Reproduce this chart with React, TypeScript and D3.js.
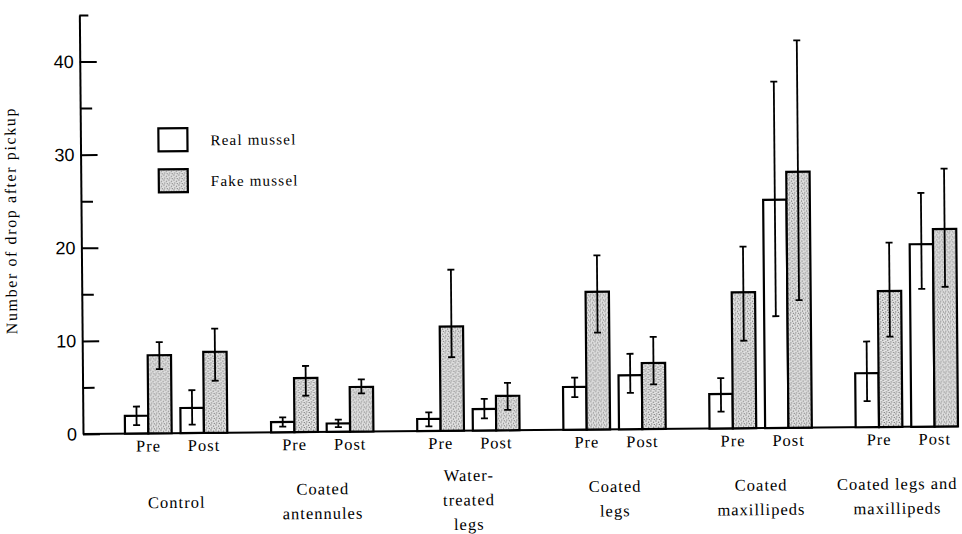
import React, { useEffect, useRef } from "react";
import * as d3 from "d3";

const width = 962;
const height = 534;

const categories = [
  "Control",
  "Coated antennules",
  "Water-treated legs",
  "Coated legs",
  "Coated maxillipeds",
  "Coated legs and maxillipeds",
];
const categoryLines = [
  ["Control"],
  ["Coated", "antennules"],
  ["Water-", "treated", "legs"],
  ["Coated", "legs"],
  ["Coated", "maxillipeds"],
  ["Coated legs and", "maxillipeds"],
];
const phases = ["Pre", "Post"];
const seriesNames = ["Real mussel", "Fake mussel"];

// [Pre, Post] per category
const realMean = [[1.9, 2.7], [1.1, 0.9], [1.3, 2.3], [4.6, 5.8], [3.7, 24.5], [5.8, 19.6]];
const realLow = [[0.9, 0.9], [0.6, 0.5], [0.5, 1.3], [3.5, 3.9], [1.8, 12.0], [2.8, 14.8]];
const realHigh = [[2.9, 4.6], [1.6, 1.3], [2.0, 3.4], [5.6, 8.1], [5.4, 37.2], [9.2, 25.1]];

const fakeMean = [[8.4, 8.7], [5.8, 4.8], [11.2, 3.7], [14.8, 7.1], [14.6, 27.5], [14.6, 21.2]];
const fakeLow = [[6.9, 5.6], [3.9, 4.1], [7.9, 2.2], [10.4, 4.8], [9.4, 13.7], [9.7, 15.0]];
const fakeHigh = [[9.8, 11.2], [7.1, 5.6], [17.3, 5.1], [18.7, 9.9], [19.5, 41.6], [19.8, 27.7]];

const yTicks = [0, 10, 20, 30, 40];
const yMinorTicks = [5, 15, 25, 35];
const yTop = 45;

const serif = "'Liberation Serif', 'Times New Roman', serif";

const App = () => {
  const ref = useRef(null);

  const chart = () => {
    const svg = d3.select(ref.current);
    svg.selectAll("*").remove();
    svg.attr("width", width).attr("height", height).attr("viewBox", [0, 0, width, height]);

    const defs = svg.append("defs");
    const pat = defs
      .append("pattern")
      .attr("id", "stipple")
      .attr("patternUnits", "userSpaceOnUse")
      .attr("width", 5)
      .attr("height", 5);
    pat.append("rect").attr("width", 5).attr("height", 5).attr("fill", "#e4e4e4");
    [[1, 1], [3.6, 2.2], [1.8, 3.9], [4.4, 4.6]].forEach(([cx, cy]) =>
      pat.append("circle").attr("cx", cx).attr("cy", cy).attr("r", 0.65).attr("fill", "#666")
    );

    const axisX = 83;
    const y = d3.scaleLinear().domain([0, yTop]).range([434, 15]);
    const x = d3.scaleBand().domain(categories).range([125, 958]).paddingInner(0.3).paddingOuter(0);
    const xPhase = d3.scaleBand().domain(phases).range([0, x.bandwidth()]).paddingInner(0.16);
    const xSeries = d3.scaleBand().domain(seriesNames).range([0, xPhase.bandwidth()]);

    // the scanned figure is slightly tilted
    const g = svg.append("g").attr("transform", `rotate(-0.5, ${axisX}, ${y(0)})`);

    // y axis
    const yAxis = g
      .append("g")
      .attr("transform", `translate(${axisX},0)`)
      .call(
        d3.axisLeft(y).tickValues(yTicks).tickSizeInner(-17).tickSizeOuter(0).tickPadding(6).tickFormat(d3.format("d"))
      );
    yAxis.selectAll("path, line").attr("stroke", "#000").attr("stroke-width", 2);
    yAxis
      .selectAll("text")
      .attr("font-family", "'Liberation Sans', Arial, sans-serif")
      .attr("font-size", 18)
      .attr("fill", "#000");

    const minor = g
      .append("g")
      .attr("transform", `translate(${axisX},0)`)
      .call(d3.axisLeft(y).tickValues(yMinorTicks).tickSize(-12).tickFormat(() => ""));
    minor.select(".domain").remove();
    minor.selectAll("line").attr("stroke", "#000").attr("stroke-width", 2);

    const cap = g
      .append("g")
      .attr("transform", `translate(${axisX},0)`)
      .call(d3.axisLeft(y).tickValues([yTop]).tickSize(-9).tickFormat(() => ""));
    cap.select(".domain").remove();
    cap.selectAll("line").attr("stroke", "#000").attr("stroke-width", 2);

    // baseline
    g.append("line")
      .attr("x1", axisX)
      .attr("x2", 958)
      .attr("y1", y(0))
      .attr("y2", y(0))
      .attr("stroke", "#000")
      .attr("stroke-width", 2);

    // y label
    g.append("text")
      .attr("transform", `translate(18, 220) rotate(-90)`)
      .attr("text-anchor", "middle")
      .attr("font-family", serif)
      .attr("font-size", 16)
      .attr("letter-spacing", 1.6)
      .attr("fill", "#000")
      .text("Number of drop after pickup");

    // bars
    const rows = [];
    categories.forEach((c, i) => {
      phases.forEach((p, j) => {
        rows.push({ c, p, s: seriesNames[0], v: realMean[i][j], lo: realLow[i][j], hi: realHigh[i][j] });
        rows.push({ c, p, s: seriesNames[1], v: fakeMean[i][j], lo: fakeLow[i][j], hi: fakeHigh[i][j] });
      });
    });
    const bx = (d) => x(d.c) + xPhase(d.p) + xSeries(d.s);
    const bw = xSeries.bandwidth();

    g.append("g")
      .selectAll("rect")
      .data(rows)
      .join("rect")
      .attr("x", bx)
      .attr("y", (d) => y(d.v))
      .attr("width", bw)
      .attr("height", (d) => y(0) - y(d.v))
      .attr("fill", (d) => (d.s === seriesNames[0] ? "#fff" : "url(#stipple)"))
      .attr("stroke", "#000")
      .attr("stroke-width", 2.2);

    const err = g.append("g").attr("stroke", "#000").attr("stroke-width", 1.8);
    err
      .selectAll("line.v")
      .data(rows)
      .join("line")
      .attr("class", "v")
      .attr("x1", (d) => bx(d) + bw / 2)
      .attr("x2", (d) => bx(d) + bw / 2)
      .attr("y1", (d) => y(d.lo))
      .attr("y2", (d) => y(d.hi));
    ["lo", "hi"].forEach((k) => {
      err
        .selectAll(`line.${k}`)
        .data(rows)
        .join("line")
        .attr("class", k)
        .attr("x1", (d) => bx(d) + bw / 2 - 3.5)
        .attr("x2", (d) => bx(d) + bw / 2 + 3.5)
        .attr("y1", (d) => y(d[k]))
        .attr("y2", (d) => y(d[k]));
    });

    // Pre / Post labels
    const phaseRows = categories.flatMap((c) => phases.map((p) => ({ c, p })));
    g.append("g")
      .selectAll("text")
      .data(phaseRows)
      .join("text")
      .attr("x", (d) => x(d.c) + xPhase(d.p) + xPhase.bandwidth() / 2)
      .attr("y", 452)
      .attr("text-anchor", "middle")
      .attr("font-family", serif)
      .attr("font-size", 16.5)
      .attr("letter-spacing", 1)
      .attr("fill", "#000")
      .text((d) => d.p);

    // category labels
    const catG = g.append("g");
    categories.forEach((c, i) => {
      const lines = categoryLines[i];
      const t = catG
        .append("text")
        .attr("text-anchor", "middle")
        .attr("font-family", serif)
        .attr("font-size", 16.5)
        .attr("letter-spacing", 1)
        .attr("fill", "#000");
      lines.forEach((ln, k) => {
        t.append("tspan")
          .attr("x", x(c) + x.bandwidth() / 2)
          .attr("y", 503 + (k - (lines.length - 1) / 2) * 24.5)
          .attr("dy", "0.35em")
          .text(ln);
      });
      const box = t.node().getBBox();
      const over = box.x + box.width - 957;
      if (over > 0) t.attr("transform", `translate(${-over},0)`);
    });

    // legend
    const leg = g.append("g");
    seriesNames.forEach((s, i) => {
      leg
        .append("rect")
        .attr("x", 161)
        .attr("y", 129 + i * 41)
        .attr("width", 29)
        .attr("height", 23)
        .attr("fill", i === 0 ? "#fff" : "url(#stipple)")
        .attr("stroke", "#000")
        .attr("stroke-width", 2.2);
      leg
        .append("text")
        .attr("x", 213)
        .attr("y", 141 + i * 41)
        .attr("dy", "0.35em")
        .attr("font-family", serif)
        .attr("font-size", 15)
        .attr("letter-spacing", 1.2)
        .attr("fill", "#000")
        .text(s);
    });
  };

  useEffect(() => {
    chart();
  }, []);

  return (
    <div>
      <svg ref={ref} style={{ position: "absolute", left: 0, top: 0, background: "#fff" }} />
    </div>
  );
};

export default App;
